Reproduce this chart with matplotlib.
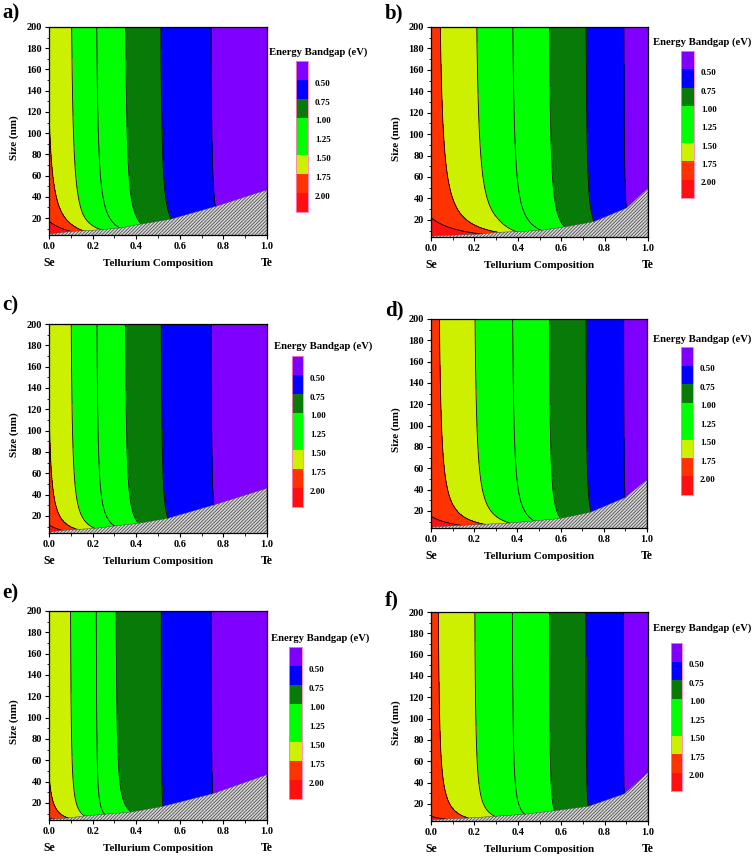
import numpy as np
import matplotlib
matplotlib.use("Agg")
import matplotlib.pyplot as plt
from matplotlib.ticker import MultipleLocator, FormatStrFormatter

plt.rcParams['font.family'] = ['Liberation Serif', 'DejaVu Serif']
plt.rcParams['font.weight'] = 'bold'
plt.rcParams['hatch.linewidth'] = 0.5

# contour levels (eV) and fill colours, lowest gap first
levels = [0.50, 0.75, 1.00, 1.25, 1.50, 1.75, 2.00]
band_colors = ['#8000ff', '#0000ff', '#077a07', '#00ff00', '#00ff00',
               '#ccf000', '#ff3300', '#ff1010']
nan = np.nan

# x where each level (0.50 ... 2.00) crosses the top (200 nm) edge
a_top_x = [0.743, 0.513, 0.352, 0.219, 0.104, nan, nan]
b_top_x = [0.889, 0.715, 0.546, 0.377, 0.211, 0.043, nan]
c_top_x = [0.744, 0.515, 0.351, 0.220, 0.102, nan, nan]
d_top_x = [0.892, 0.718, 0.548, 0.378, 0.204, 0.039, nan]
e_top_x = [0.744, 0.515, 0.308, 0.217, 0.099, nan, nan]
f_top_x = [0.887, 0.714, 0.546, 0.375, 0.202, 0.034, nan]

# bulk gap at Se end and at Te end
a_gap_ends = [1.734, 0.33]
b_gap_ends = [1.814, 0.33]
c_gap_ends = [1.741, 0.33]
d_gap_ends = [1.809, 0.33]
e_gap_ends = [1.723, 0.33]
f_gap_ends = [1.801, 0.33]

# size (nm) where the 2.00 eV contour meets x = 0
a_red_size = 17.0
b_red_size = 22.2
c_red_size = 11.5
d_red_size = 15.0
e_red_size = 6.0
f_red_size = 8.4

# where each level contour meets the hatched edge (x, size)
a_edge_x = [0.763, 0.560, 0.423, 0.324, 0.240, 0.156, 0.100]
a_edge_d = [30.9, 19.0, 14.3, 10.6, 9.0, 8.0, 7.4]
b_edge_x = [0.900, 0.751, 0.615, 0.508, 0.392, 0.308, 0.230]
b_edge_d = [31.0, 18.4, 13.4, 10.2, 9.0, 8.4, 6.8]
c_edge_x = [0.756, 0.545, 0.410, 0.300, 0.210, 0.130, 0.060]
c_edge_d = [30.3, 17.8, 13.1, 10.6, 8.3, 7.4, 6.5]
d_edge_x = [0.898, 0.741, 0.599, 0.478, 0.363, 0.247, 0.139]
d_edge_d = [32.5, 19.0, 13.0, 10.6, 8.7, 7.5, 6.5]
e_edge_x = [0.751, 0.522, 0.377, 0.255, 0.163, 0.087]
e_edge_d = [28.7, 16.8, 11.5, 9.4, 7.8, 5.9]
f_edge_x = [0.890, 0.725, 0.569, 0.431, 0.294, 0.171, 0.064]
f_edge_d = [29.4, 17.8, 13.7, 10.3, 8.4, 6.8, 5.9]

# hatched edge size at x = 0 and x = 1
a_edge_ends = [4.9, 46.6]
b_edge_ends = [4.9, 49.8]
c_edge_ends = [4.9, 46.0]
d_edge_ends = [4.9, 49.5]
e_edge_ends = [4.9, 46.6]
f_edge_ends = [4.9, 49.7]

panels = {
    'a)': (a_top_x, a_gap_ends, a_red_size, a_edge_x, a_edge_d, a_edge_ends),
    'b)': (b_top_x, b_gap_ends, b_red_size, b_edge_x, b_edge_d, b_edge_ends),
    'c)': (c_top_x, c_gap_ends, c_red_size, c_edge_x, c_edge_d, c_edge_ends),
    'd)': (d_top_x, d_gap_ends, d_red_size, d_edge_x, d_edge_d, d_edge_ends),
    'e)': (e_top_x, e_gap_ends, e_red_size, e_edge_x, e_edge_d, e_edge_ends),
    'f)': (f_top_x, f_gap_ends, f_red_size, f_edge_x, f_edge_d, f_edge_ends),
}

# figure-pixel layout: axes box, colorbar box, colorbar title, panel label
W, H = 756, 858
layout = {
    'a)': ((49, 27, 267, 235), (296, 61, 308, 212), (318, 52), (2, 13)),
    'b)': ((431, 27, 648, 237), (681, 51, 694, 198), (702, 42), (385, 13)),
    'c)': ((49, 324, 267, 533), (292, 356, 303, 507), (323, 346), (2, 305)),
    'd)': ((431, 319, 647, 528), (681, 347, 693, 495), (702, 339), (385, 310)),
    'e)': ((49, 611, 267, 820), (289, 647, 302, 799), (320, 638), (2, 593)),
    'f)': ((431, 612, 648, 821), (671, 643, 682, 791), (702, 628), (385, 600)),
}


def inv(d):
    return 1.0 / d - 1.0 / 200.0


def gap_field(top_x, gap_ends, red_size, edge_x, edge_d, X, D):
    lv = np.array(levels)
    tx = np.array(top_x)
    ok = ~np.isnan(tx)
    xs = np.concatenate([[0.0], tx[ok][::-1], [1.0]])
    gs = np.concatenate([[gap_ends[0]], lv[ok][::-1], [gap_ends[1]]])
    ex = np.array(edge_x)
    ed = np.array(edge_d)
    # confinement strength at Se end and at each edge point
    b0 = (2.0 - gap_ends[0]) / inv(red_size)
    bk = (lv[:len(ex)] - np.interp(ex, xs, gs)) / inv(ed)
    o = np.argsort(ex)
    bx = np.concatenate([[0.0], ex[o]])
    bb = np.concatenate([[b0], bk[o]])
    return np.interp(X, xs, gs) + np.interp(X, bx, bb) * inv(D)


fig = plt.figure(figsize=(W / 100, H / 100), dpi=100)

xg = np.linspace(0, 1, 501)
dg = np.linspace(4, 200, 981)
X, D = np.meshgrid(xg, dg)

for name, (top_x, gap_ends, red_size, edge_x, edge_d, edge_ends) in panels.items():
    box, cbox, ctitle, lab = layout[name]
    ax = fig.add_axes([box[0] / W, 1 - box[3] / H,
                       (box[2] - box[0]) / W, (box[3] - box[1]) / H])
    E = np.array([gap_field(top_x, gap_ends, red_size, edge_x, edge_d, xr, dr)
                  for xr, dr in zip(X, D)])
    ax.contourf(X, D, E, levels=[-5] + levels + [10], colors=band_colors)
    ax.contour(X, D, E, levels=levels, colors='k', linewidths=0.6)

    # hatched region below the edge
    hx = np.concatenate([[0.0], np.sort(edge_x), [1.0]])
    hd = np.concatenate([[edge_ends[0]], np.array(edge_d)[np.argsort(edge_x)], [edge_ends[1]]])
    ax.fill_between(hx, 0, hd, facecolor='#d4d4d4', edgecolor='#3c3c3c',
                    hatch='//////////', linewidth=0.3, zorder=3)

    ax.set_xlim(0, 1)
    ax.set_ylim(4, 200)
    ax.xaxis.set_major_locator(MultipleLocator(0.2))
    ax.xaxis.set_minor_locator(MultipleLocator(0.1))
    ax.xaxis.set_major_formatter(FormatStrFormatter('%.1f'))
    ax.yaxis.set_minor_locator(MultipleLocator(10))
    ax.set_yticks(np.arange(20, 201, 20))
    ax.tick_params(which='major', direction='out', length=3, width=0.8,
                   labelsize=7.5, pad=2)
    ax.tick_params(which='minor', direction='out', length=1.8, width=0.6)
    for s in ax.spines.values():
        s.set_linewidth(0.9)
        s.set_zorder(5)

    ax.text(0.0, -0.135, 'Se', transform=ax.transAxes, ha='center', va='center', fontsize=8.5)
    ax.text(1.0, -0.135, 'Te', transform=ax.transAxes, ha='center', va='center', fontsize=8.5)
    ax.text(0.5, -0.135, 'Tellurium Composition', transform=ax.transAxes,
            ha='center', va='center', fontsize=8)
    ax.text(-0.16, 0.47, 'Size (nm)', transform=ax.transAxes, rotation=90,
            ha='center', va='center', fontsize=8)

    # colorbar, lowest gap at top
    cax = fig.add_axes([cbox[0] / W, 1 - cbox[3] / H,
                        (cbox[2] - cbox[0]) / W, (cbox[3] - cbox[1]) / H])
    for i, c in enumerate(band_colors):
        cax.axhspan(i, i + 1, color=c, lw=0)
    cax.set_ylim(len(band_colors), 0)
    cax.set_xlim(0, 1)
    cax.set_xticks([])
    cax.yaxis.tick_right()
    cax.set_yticks([k + 1.15 for k in range(len(levels))])
    cax.set_yticklabels(['%.2f' % v for v in levels])
    cax.tick_params(axis='y', length=0, pad=5, labelsize=6.5)
    for s in cax.spines.values():
        s.set_color('#ff80c0')
        s.set_linewidth(0.6)

    fig.text(ctitle[0] / W, 1 - ctitle[1] / H, 'Energy Bandgap (eV)',
             ha='center', va='center', fontsize=7.7)
    fig.text(lab[0] / W, 1 - lab[1] / H, name, ha='left', va='center', fontsize=15)

fig.savefig('out.png', dpi=100)
